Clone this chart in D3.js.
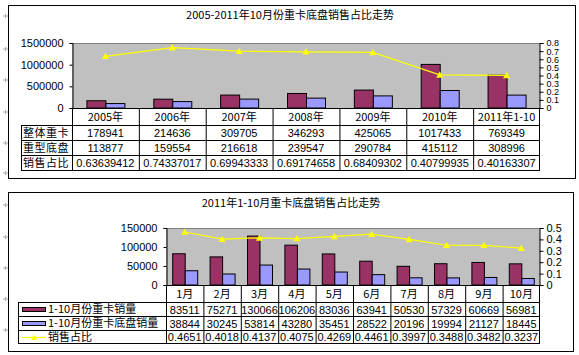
<!DOCTYPE html>
<html><head><meta charset="utf-8">
<script src="https://cdn.jsdelivr.net/npm/d3@7/dist/d3.min.js"></script>
<style>
body{margin:0;background:#fff;}
svg text{font-family:"Liberation Sans",Arial,sans-serif;}
.cjk{font-family:"Noto Sans CJK SC","Liberation Sans",sans-serif;}
</style>
</head><body>
<svg id="c" width="579" height="355"></svg>
<script>
// ---- Top chart data ----
const years = ["2005年","2006年","2007年","2008年","2009年","2010年","2011年1-10"];
const totalTrucks = [178941,214636,309705,346293,425065,1017433,769349];
const chassis = [113877,159554,216618,239547,290784,415112,308996];
const shareTop = [0.63639412,0.74337017,0.69943333,0.69174658,0.68409302,0.40799935,0.40163307];
const topRowLabels = ["整体重卡","重型底盘","销售占比"];
const topLeftTicks = [0,500000,1000000,1500000];
const topRightTicks = [0,0.1,0.2,0.3,0.4,0.5,0.6,0.7,0.8];
const topTitle = "2005-2011年10月份重卡底盘销售占比走势";

// ---- Bottom chart data ----
const months = ["1月","2月","3月","4月","5月","6月","7月","8月","9月","10月"];
const monthTrucks = [83511,75271,130066,106206,83036,63941,50530,57329,60669,56981];
const monthChassis = [38844,30245,53814,43280,35451,28522,20196,19994,21127,18445];
const monthShare = [0.4651,0.4018,0.4137,0.4075,0.4269,0.4461,0.3997,0.3488,0.3482,0.3237];
const bottomSeries = ["1-10月份重卡销量","1-10月份重卡底盘销量","销售占比"];
const botLeftTicks = [0,50000,100000,150000];
const botRightTicks = [0,0.1,0.2,0.3,0.4,0.5];
const bottomTitle = "2011年1-10月重卡底盘销售占比走势";

const C1 = "#993366", C2 = "#9999FF", CL = "#FFFF00", GR = "#C0C0C0";
const svg = d3.select("#c");
svg.append("rect").attr("width",579).attr("height",355).attr("fill","#fff");

// side marks
const marks = [16,49,80,112,143,173,205,237,268,299,330];
marks.forEach(y=>{
  svg.append("path").attr("d",`M3,${y}h5M5.5,${y-2}v4`).attr("stroke","#aaa").attr("stroke-width",1);
});

function tri(g, x, y, s){
  g.append("path").attr("d",`M${x},${y-s}L${x+s},${y+s*0.8}L${x-s},${y+s*0.8}Z`).attr("fill",CL);
}

function chart(o){
  const g = svg.append("g");
  g.append("rect").attr("x",o.box[0]+0.5).attr("y",o.box[1]+0.5).attr("width",o.box[2]).attr("height",o.box[3])
    .attr("fill","none").attr("stroke","#000");
  g.append("text").attr("class","cjk").attr("x",o.titleX).attr("y",o.titleY).attr("text-anchor","middle")
    .attr("font-size",11).text(o.title);
  const x = d3.scaleBand().domain(o.cats).range([o.x0,o.x1]);
  const yl = d3.scaleLinear().domain([0,o.lmax]).range([o.yb,o.yt]);
  const yr = d3.scaleLinear().domain([0,o.rmax]).range([o.yb,o.yt]);
  g.append("rect").attr("x",o.x0).attr("y",o.yt).attr("width",o.x1-o.x0).attr("height",o.yb-o.yt).attr("fill",GR);
  g.append("line").attr("x1",o.x0).attr("x2",o.x1).attr("y1",o.yt+0.5).attr("y2",o.yt+0.5).attr("stroke","#808080");
  // left axis
  const la = g.append("g").attr("transform",`translate(${o.x0+0.5},0)`)
    .call(d3.axisLeft(yl).tickValues(o.lticks).tickSize(3).tickPadding(o.lpad).tickFormat(d3.format("d")));
  la.selectAll("text").attr("font-size",11).attr("fill","#000").attr("font-family","Liberation Sans, Arial");
  la.select(".domain").attr("stroke","#000");
  // right axis
  const ra = g.append("g").attr("transform",`translate(${o.x1-0.5},0)`)
    .call(d3.axisRight(yr).tickValues(o.rticks).tickSize(4).tickPadding(3).tickFormat(d=>d===0?"0":d3.format(".1f")(d)));
  ra.selectAll("text").attr("font-size",o.rfont).attr("fill","#000").attr("font-family","Liberation Sans, Arial");
  ra.select(".domain").attr("stroke","#000");
  // bars
  const bw = o.bw;
  [[o.s1,C1,-bw],[o.s2,C2,0]].forEach(([arr,col,off])=>{
    g.selectAll(null).data(arr).enter().append("rect")
      .attr("x",(d,i)=>x(o.cats[i])+x.bandwidth()/2+off+0.5)
      .attr("y",d=>yl(d)+0.5).attr("width",bw).attr("height",d=>o.yb-yl(d)-0.5)
      .attr("fill",col).attr("stroke","#000").attr("stroke-width",1);
  });
  // line
  const line = d3.line().x((d,i)=>x(o.cats[i])+x.bandwidth()/2).y(d=>yr(d));
  g.append("path").attr("d",line(o.s3)).attr("fill","none").attr("stroke",CL).attr("stroke-width",1.2);
  o.s3.forEach((d,i)=>tri(g,x(o.cats[i])+x.bandwidth()/2,yr(d),3.5));
  // table
  const rows = o.rows;
  const ln = (x1,y1,x2,y2)=>g.append("line").attr("x1",x1).attr("y1",y1).attr("x2",x2).attr("y2",y2).attr("stroke","#000");
  o.cats.forEach((c,i)=>{ ln(x(c)+0.5,rows[0],x(c)+0.5,rows[4]); });
  ln(o.x1-0.5,rows[0],o.x1-0.5,rows[4]);
  ln(o.tl+0.5,rows[1],o.tl+0.5,rows[4]);
  for(let k=1;k<=4;k++) ln(o.tl,rows[k]+0.5,o.x1,rows[k]+0.5);
  ln(o.x0,rows[0]+0.5,o.x1,rows[0]+0.5);
  const cx = c=>x(c)+x.bandwidth()/2;
  o.cats.forEach(c=>{
    g.append("text").attr("class","cjk").attr("x",cx(c)).attr("y",(rows[0]+rows[1])/2+4).attr("text-anchor","middle")
      .attr("font-size",11).text(c);
  });
  const series=[o.s1,o.s2,o.s3];
  series.forEach((arr,r)=>{
    arr.forEach((v,i)=>{
      g.append("text").attr("x",cx(o.cats[i])).attr("y",(rows[r+1]+rows[r+2])/2+4.5).attr("text-anchor","middle")
        .attr("font-size",o.tfont).text(o.fmt[r](v));
    });
  });
  return {g,x,rows};
}

const topC = chart({box:[8,5,567,173],title:topTitle,titleX:290,titleY:19,cats:years,x0:72,x1:540,yt:43,yb:108,
  lmax:1500000,rmax:0.8,lticks:topLeftTicks,rticks:topRightTicks,lpad:6,rfont:9,bw:19,
  s1:totalTrucks,s2:chassis,s3:shareTop,rows:[108,125,140,155,170],tl:21,tfont:11,
  fmt:[d3.format("d"),d3.format("d"),d=>String(d)]});
topRowLabels.forEach((t,r)=>{
  topC.g.append("text").attr("class","cjk").attr("x",23).attr("y",(topC.rows[r+1]+topC.rows[r+2])/2+4)
    .attr("font-size",11).attr("letter-spacing",0.5).text(t);
});

const botC = chart({box:[8,192,565,159],title:bottomTitle,titleX:291,titleY:207,cats:months,x0:166,x1:540,yt:228,yb:285,
  lmax:150000,rmax:0.5,lticks:botLeftTicks,rticks:botRightTicks,lpad:6,rfont:11,bw:12.5,
  s1:monthTrucks,s2:monthChassis,s3:monthShare,rows:[285,302,316,330,343],tl:18,tfont:11,
  fmt:[d3.format("d"),d3.format("d"),d=>d3.format(".4f")(d)]});
bottomSeries.forEach((t,r)=>{
  const yc = (botC.rows[r+1]+botC.rows[r+2])/2;
  if(r<2){
    botC.g.append("rect").attr("x",22.5).attr("y",yc-1.5).attr("width",23).attr("height",4)
      .attr("fill",r===0?C1:C2).attr("stroke","#000");
  } else {
    botC.g.append("line").attr("x1",22).attr("x2",46).attr("y1",yc+1).attr("y2",yc+1).attr("stroke",CL).attr("stroke-width",1.2);
    tri(botC.g,34,yc+1,3);
  }
  botC.g.append("text").attr("class","cjk").attr("x",48).attr("y",yc+4).attr("font-size",11).text(t);
});
</script>
</body></html>
